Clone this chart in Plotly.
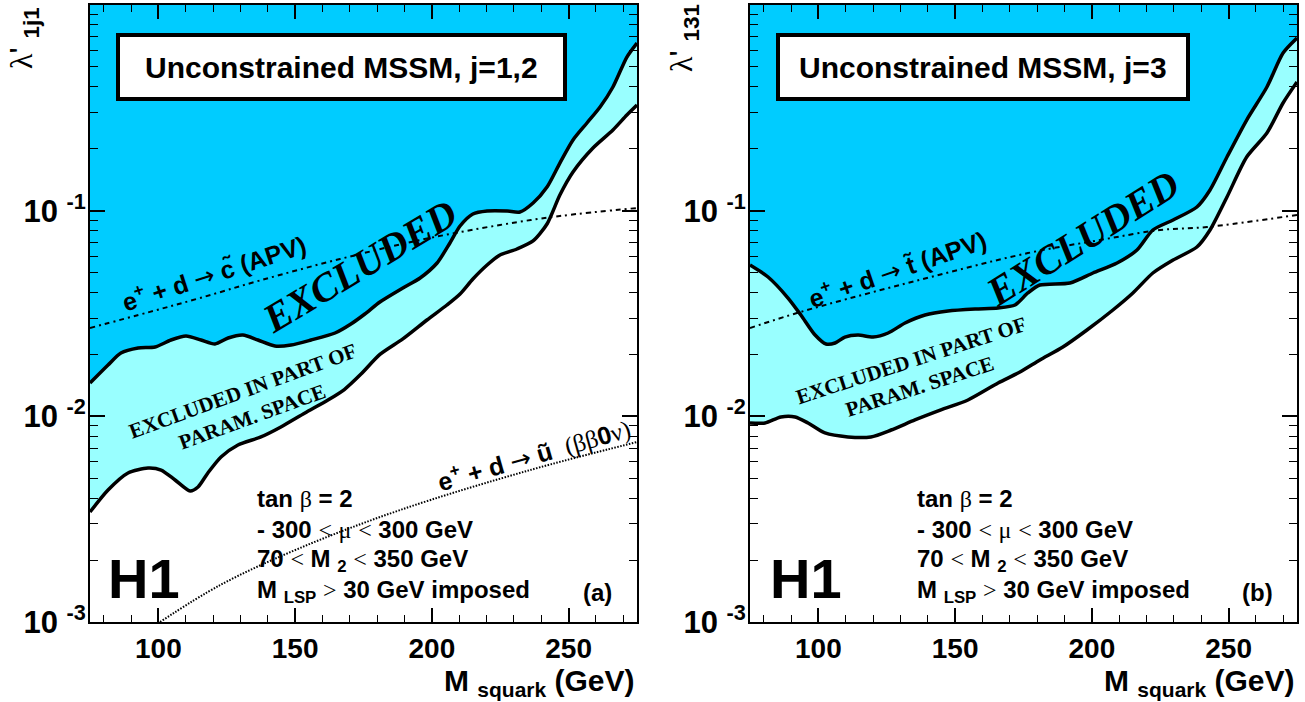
import plotly.graph_objects as go

# ---------------- data ----------------
# panel (a): j = 1,2
a_upper_m = [75, 81.6, 86.3, 92.6, 98.8, 104.6, 110.1, 115.6, 120.7, 125.5, 130.9, 136.4, 142.6,
             148.5, 155.8, 164.6, 170.4, 175.5, 181.0, 189.4, 195.7, 201.9, 206.6, 210.3, 215.0,
             220.2, 227.5, 232.2, 237.0, 242.1, 246.8, 251.6, 256.7, 261.5, 266.2, 271.3, 275]
a_upper_l = [0.01452, 0.01777, 0.02032, 0.02149, 0.02173, 0.02350, 0.02458, 0.02350, 0.02247,
             0.02404, 0.02485, 0.02350, 0.02198, 0.02222, 0.02350, 0.02542, 0.02812, 0.03145,
             0.03597, 0.04207, 0.04706, 0.05566, 0.06965, 0.08422, 0.09634, 0.09963, 0.09963,
             0.09851, 0.1089, 0.1303, 0.1704, 0.2206, 0.2668, 0.3192, 0.3993, 0.5585, 0.6533]
a_lower_m = [75, 81.6, 88.9, 96.2, 101.0, 106.1, 111.6, 114.5, 118.1, 122.9, 129.1, 137.5, 144.8,
             153.6, 162.0, 168.0, 174.0, 181.0, 189.4, 198.2, 205.5, 210.3, 215.0, 220.2, 224.9,
             231.1, 237.0, 242.1, 246.8, 251.6, 258.9, 266.2, 271.3, 275]
a_lower_l = [0.003425, 0.004383, 0.005304, 0.005607, 0.005483, 0.004903, 0.004334, 0.004533,
             0.005304, 0.006343, 0.007255, 0.007937, 0.008874, 0.01038, 0.0120, 0.0135, 0.0160,
             0.0200, 0.0238, 0.0294, 0.03478, 0.03934, 0.04653, 0.05443, 0.06087, 0.06511,
             0.07122, 0.08612, 0.1192, 0.1542, 0.2017, 0.2467, 0.2918, 0.3264]
a_apv_m = [75, 96.9, 115.2, 137.2, 166.4, 195.7, 224.9, 246.8, 275]
a_apv_l = [0.0269, 0.0322, 0.0376, 0.0458, 0.0582, 0.0720, 0.0852, 0.0942, 0.1030]
a_bb_m = [100.6, 122.5, 151.8, 188.3, 235.9, 275]
a_bb_l = [0.001, 0.00151, 0.00229, 0.00350, 0.00548, 0.00750]

# panel (b): j = 3
b_upper_m = [75, 81.6, 88.9, 93.6, 98.8, 102.8, 106.1, 109.7, 114.5, 120.0, 125.5, 131.7, 139.0,
             147.4, 157.3, 165.7, 171.9, 176.6, 181.0, 192.0, 200.4, 209.2, 216.5, 222.3, 229.7,
             238.4, 243.2, 249.4, 256.6, 264.0, 269.9, 275]
b_upper_l = [0.05443, 0.04758, 0.03761, 0.03110, 0.02485, 0.02247, 0.02272, 0.02430, 0.02485,
             0.02430, 0.02542, 0.02844, 0.03110, 0.03252, 0.03326, 0.03363, 0.03478, 0.03979,
             0.04350, 0.04450, 0.04977, 0.05566, 0.06437, 0.08054, 0.09009, 0.1042, 0.1260,
             0.1823, 0.2759, 0.3993, 0.5842, 0.6909]
b_lower_m = [75, 80.5, 86.3, 91.5, 96.2, 102.4, 110.8, 119.2, 126.6, 135.3, 144.8, 154.7, 165.7,
             173.7, 181.0, 189.4, 198.2, 207.7, 215.0, 222.3, 229.7, 238.4, 243.2, 249.4, 256.6,
             264.0, 269.9, 275]
b_lower_l = [0.00928, 0.00928, 0.00993, 0.00993, 0.00928, 0.00830, 0.00794, 0.00794, 0.00858,
             0.00960, 0.01074, 0.01201, 0.01452, 0.01642, 0.01879, 0.02173, 0.02629, 0.03289,
             0.03979, 0.04977, 0.05755, 0.06658, 0.08054, 0.1165, 0.1823, 0.2385, 0.3339, 0.4224]
b_apv_m = [75, 93.6, 129.8, 176.6, 203.0, 224.9, 242.1, 275]
b_apv_l = [0.0269, 0.0322, 0.0435, 0.0622, 0.0720, 0.0805, 0.0833, 0.0953]

x_range = [75, 275]
y_top = 1.0
x_major = [100, 150, 200, 250]
x_minor = [v for v in range(80, 275, 10) if v not in x_major]
y_major = [0.001, 0.01, 0.1]
y_major_text = ["<b>10</b> <sup><b>-3</b></sup>", "<b>10</b> <sup><b>-2</b></sup>",
                "<b>10</b> <sup><b>-1</b></sup>"]
y_minor = [m * 10.0 ** e for e in (-3, -2, -1) for m in range(2, 10)]

DARK = "#00CCFF"
LIGHT = "#99FFFF"
SANS = "Liberation Sans, Arial, sans-serif"
SERIF = "Liberation Serif, Times New Roman, serif"
W, H = 1305, 702

fig = go.Figure()


def add_panel(xa, ya, up_m, up_l, lo_m, lo_l, apv_m, apv_l, bb_m=None, bb_l=None):
    sm = 0.7
    common = dict(xaxis=xa, yaxis=ya, hoverinfo="skip", showlegend=False, mode="lines")
    fig.add_trace(go.Scatter(x=lo_m, y=lo_l, line=dict(width=0, shape="spline", smoothing=sm), **common))
    fig.add_trace(go.Scatter(x=up_m, y=up_l, fill="tonexty", fillcolor=LIGHT,
                             line=dict(width=0, shape="spline", smoothing=sm), **common))
    fig.add_trace(go.Scatter(x=x_range, y=[y_top, y_top], fill="tonexty", fillcolor=DARK,
                             line=dict(width=0), **common))
    fig.add_trace(go.Scatter(x=apv_m, y=apv_l, line=dict(color="black", width=2, shape="spline",
                                                          dash="5px,4px,2px,4px"), **common))
    if bb_m is not None:
        fig.add_trace(go.Scatter(x=bb_m, y=bb_l, line=dict(color="black", width=2, shape="spline",
                                                            dash="1.5px,1.5px"), **common))
    fig.add_trace(go.Scatter(x=up_m, y=up_l, line=dict(color="black", width=3.5, shape="spline", smoothing=sm), **common))
    fig.add_trace(go.Scatter(x=lo_m, y=lo_l, line=dict(color="black", width=3.5, shape="spline", smoothing=sm), **common))


add_panel("x", "y", a_upper_m, a_upper_l, a_lower_m, a_lower_l, a_apv_m, a_apv_l, a_bb_m, a_bb_l)
add_panel("x2", "y2", b_upper_m, b_upper_l, b_lower_m, b_lower_l, b_apv_m, b_apv_l)


def xaxis(domain):
    return dict(domain=domain, range=x_range, showgrid=False, zeroline=False, automargin=False,
                showline=True, linecolor="black", linewidth=2, mirror="allticks",
                ticks="inside", ticklen=14, tickwidth=1.5, tickcolor="black",
                tickvals=x_major, ticktext=[f"<b>{v}</b>" for v in x_major],
                tickfont=dict(family=SANS, size=28, color="black"), ticklabelstandoff=0,
                minor=dict(tickvals=x_minor, ticks="inside", ticklen=7, tickwidth=1.2,
                           tickcolor="black", showgrid=False))


def yaxis(domain, anchor):
    return dict(domain=domain, anchor=anchor, type="log", range=[-3, 0], showgrid=False,
                zeroline=False, automargin=False, showline=True, linecolor="black", linewidth=2,
                mirror="allticks",
                ticks="inside", ticklen=15, tickwidth=1.5, tickcolor="black",
                tickvals=y_major, ticktext=y_major_text,
                tickfont=dict(family=SANS, size=31, color="black"), ticklabelstandoff=-4,
                minor=dict(tickvals=y_minor, ticks="inside", ticklen=8, tickwidth=1.2,
                           tickcolor="black", showgrid=False))


ydom = [1 - 622 / H, 1 - 5 / H]
fig.update_layout(
    width=W, height=H, margin=dict(l=0, r=0, t=0, b=0, autoexpand=False),
    paper_bgcolor="white", plot_bgcolor="white",
    xaxis=dict(anchor="y", **xaxis([90 / W, 637 / W])),
    yaxis=yaxis(ydom, "x"),
    xaxis2=dict(anchor="y2", **xaxis([750 / W, 1297 / W])),
    yaxis2=yaxis(ydom, "x2"),
)


def P(px, py):
    return px / W, 1 - py / H


def ann(px, py, text, size, family=SANS, angle=0, xanchor="center", yanchor="middle", weight="bold"):
    x, y = P(px, py)
    fig.add_annotation(x=x, y=y, xref="paper", yref="paper", text=text, showarrow=False,
                       textangle=angle, xanchor=xanchor, yanchor=yanchor,
                       font=dict(family=family, size=size, color="black", weight=weight))


def sym(s):
    return f'<span style="font-family:Liberation Serif;font-weight:normal">{s}</span>'


# title boxes
for (x0, x1, label) in [(118, 565, "Unconstrained MSSM, j=1,2"), (778, 1188, "Unconstrained MSSM, j=3")]:
    fig.add_shape(type="rect", xref="paper", yref="paper", x0=x0 / W, x1=x1 / W,
                  y0=1 - 99 / H, y1=1 - 35 / H, line=dict(color="black", width=4),
                  fillcolor="white", layer="above")
    ann((x0 + x1) / 2, 67, label, 30)

# EXCLUDED labels
ann(359, 266, "<i>EXCLUDED</i>", 40, family=SERIF, angle=-31)
ann(1082, 238, "<i>EXCLUDED</i>", 40, family=SERIF, angle=-32)

ann(248, 403, "EXCLUDED IN PART OF<br>PARAM. SPACE", 21, family=SERIF, angle=-20)
ann(915, 373, "EXCLUDED IN PART OF<br>PARAM. SPACE", 21, family=SERIF, angle=-18)

# process labels
arrow = '<span style="font-family:DejaVu Sans;font-weight:normal">\u2192</span>'
ann(214, 273, f"e<sup>+</sup> + d {arrow} c\u0303 (APV)", 25, angle=-18)
ann(897, 268, f"e<sup>+</sup> + d {arrow} t\u0303 (APV)", 25, angle=-19)
ann(533, 454, f"e<sup>+</sup> + d {arrow} u\u0303  {sym('(&#946;&#946;')}0{sym('&#957;)')}", 25, angle=-16)

# parameter text
for x0, tag in [(255, "(a)"), (915, "(b)")]:
    lines = [f"tan {sym('&#946;')} = 2",
             f"- 300 {sym('&lt;')} {sym('&#956;')} {sym('&lt;')} 300 GeV",
             f"70 {sym('&lt;')} M <sub>2</sub> {sym('&lt;')} 350 GeV",
             f"M <sub>LSP</sub> {sym('&gt;')} 30 GeV imposed"]
    for i, t in enumerate(lines):
        ann(x0, 498 + i * 31.3, t, 24, xanchor="left")
    ann(x0 + 342, 592, tag, 24)

ann(144, 578, "H1", 56)
ann(806, 578, "H1", 56)

# axis titles
ann(637, 682, "M <sub>squark</sub> (GeV)", 30, xanchor="right")
ann(1297, 682, "M <sub>squark</sub> (GeV)", 30, xanchor="right")
ann(24, 38, f"{sym('&#955;')}' <sub><b>1j1</b></sub>", 32, angle=-90, weight="normal")
ann(684, 38, f"{sym('&#955;')}' <sub><b>131</b></sub>", 32, angle=-90, weight="normal")

fig.write_html("out.html", post_script="document.body.style.margin='0';document.body.style.overflow='hidden';")
